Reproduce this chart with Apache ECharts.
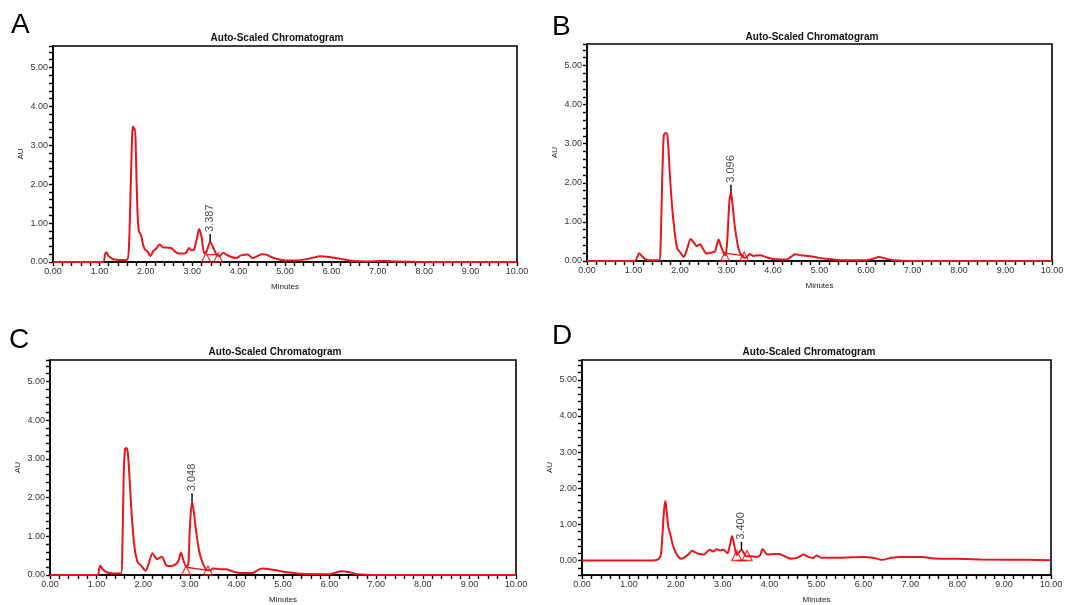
<!DOCTYPE html>
<html>
<head>
<meta charset="utf-8">
<script src="https://cdn.jsdelivr.net/npm/echarts@6/dist/echarts.min.js"></script>
<style>
html,body{margin:0;padding:0;background:#fff;}
#c{width:1080px;height:605px;}
</style>
</head>
<body>
<div id="c"></div>
<script>
// ---- Data ----
const panelLetters = ['A', 'B', 'C', 'D'];
const chartTitle = 'Auto-Scaled Chromatogram';
const xTickLabels = ['0.00','1.00','2.00','3.00','4.00','5.00','6.00','7.00','8.00','9.00','10.00'];

const tA = [0, 1.08, 1.12, 1.15, 1.2, 1.3, 1.45, 1.6, 1.64, 1.68, 1.71, 1.73, 1.75, 1.77, 1.79, 1.82, 1.85, 1.9, 1.94, 1.98, 2.04, 2.1, 2.16, 2.22, 2.3, 2.38, 2.45, 2.55, 2.62, 2.7, 2.8, 2.87, 2.93, 2.98, 3.04, 3.1, 3.15, 3.2, 3.26, 3.32, 3.387, 3.45, 3.52, 3.58, 3.67, 3.75, 3.85, 3.95, 4.05, 4.2, 4.3, 4.4, 4.5, 4.6, 4.7, 4.85, 5.0, 5.2, 5.5, 5.75, 6.0, 6.2, 6.4, 6.6, 6.8, 7.1, 7.4, 8.0, 10];
const vA = [0, 0, 0.2, 0.25, 0.15, 0.07, 0.05, 0.06, 0.5, 2.2, 3.35, 3.48, 3.4, 3.42, 2.6, 1.3, 0.8, 0.68, 0.45, 0.32, 0.27, 0.15, 0.28, 0.34, 0.45, 0.37, 0.37, 0.36, 0.28, 0.22, 0.22, 0.24, 0.36, 0.3, 0.32, 0.6, 0.85, 0.65, 0.22, 0.3, 0.52, 0.38, 0.2, 0.15, 0.23, 0.18, 0.13, 0.1, 0.17, 0.19, 0.1, 0.15, 0.2, 0.19, 0.13, 0.07, 0.04, 0.04, 0.08, 0.15, 0.12, 0.08, 0.04, 0.02, 0.01, 0.03, 0.01, 0, 0];

const tB = [0, 1.03, 1.08, 1.12, 1.17, 1.25, 1.35, 1.55, 1.58, 1.62, 1.65, 1.68, 1.72, 1.75, 1.78, 1.83, 1.89, 1.94, 2.0, 2.08, 2.15, 2.23, 2.3, 2.36, 2.43, 2.5, 2.57, 2.65, 2.75, 2.79, 2.83, 2.88, 2.94, 2.98, 3.02, 3.06, 3.096, 3.13, 3.18, 3.25, 3.32, 3.4, 3.45, 3.5, 3.58, 3.72, 3.85, 4.0, 4.15, 4.3, 4.38, 4.47, 4.6, 4.8, 5.0, 5.2, 5.5, 6.0, 6.15, 6.28, 6.4, 6.6, 7.0, 10];
const vB = [0, 0, 0.1, 0.2, 0.14, 0.05, 0.02, 0.02, 0.3, 2.2, 3.2, 3.27, 3.27, 2.9, 2.25, 1.39, 0.7, 0.32, 0.23, 0.1, 0.3, 0.56, 0.47, 0.38, 0.43, 0.3, 0.19, 0.21, 0.24, 0.4, 0.55, 0.38, 0.2, 0.15, 0.6, 1.5, 1.75, 1.45, 0.87, 0.36, 0.15, 0.08, 0.12, 0.18, 0.13, 0.15, 0.1, 0.05, 0.04, 0.04, 0.1, 0.17, 0.15, 0.12, 0.08, 0.05, 0.02, 0.02, 0.06, 0.1, 0.07, 0.02, 0, 0];

const tC = [0, 1.03, 1.05, 1.08, 1.13, 1.22, 1.35, 1.52, 1.55, 1.58, 1.61, 1.64, 1.67, 1.7, 1.75, 1.81, 1.88, 1.95, 2.05, 2.12, 2.2, 2.3, 2.4, 2.5, 2.6, 2.7, 2.76, 2.81, 2.87, 2.93, 2.97, 3.0, 3.048, 3.09, 3.12, 3.2, 3.28, 3.38, 3.44, 3.5, 3.65, 3.78, 3.95, 4.1, 4.35, 4.45, 4.55, 4.7, 4.85, 5.1, 5.4, 6.0, 6.12, 6.25, 6.4, 6.6, 7.0, 10];
const vC = [0, 0, 0.15, 0.24, 0.15, 0.07, 0.04, 0.04, 0.5, 2.5, 3.25, 3.28, 3.15, 2.64, 1.61, 0.75, 0.33, 0.25, 0.11, 0.3, 0.56, 0.41, 0.47, 0.24, 0.23, 0.28, 0.38, 0.58, 0.35, 0.2, 0.3, 1.2, 1.91, 1.6, 1.27, 0.62, 0.3, 0.12, 0.12, 0.17, 0.15, 0.15, 0.08, 0.05, 0.05, 0.12, 0.17, 0.15, 0.12, 0.07, 0.03, 0.02, 0.06, 0.1, 0.08, 0.02, 0, 0];

const tD = [0, 1.5, 1.62, 1.68, 1.72, 1.75, 1.78, 1.81, 1.84, 1.88, 1.95, 2.05, 2.12, 2.25, 2.35, 2.42, 2.5, 2.6, 2.72, 2.8, 2.87, 2.95, 3.02, 3.1, 3.15, 3.2, 3.25, 3.3, 3.4, 3.5, 3.6, 3.72, 3.8, 3.85, 3.95, 4.1, 4.2, 4.35, 4.45, 4.6, 4.72, 4.82, 4.92, 5.0, 5.1, 5.5, 6.0, 6.2, 6.4, 6.6, 6.8, 7.0, 7.25, 7.5, 8.0, 8.5, 9.5, 10];
const vD = [0, 0, 0.03, 0.15, 0.8, 1.4, 1.65, 1.3, 0.93, 0.74, 0.37, 0.11, 0.05, 0.15, 0.27, 0.22, 0.18, 0.17, 0.3, 0.25, 0.31, 0.28, 0.3, 0.2, 0.4, 0.68, 0.4, 0.15, 0.3, 0.12, 0.12, 0.1, 0.15, 0.32, 0.17, 0.18, 0.18, 0.1, 0.05, 0.08, 0.17, 0.1, 0.07, 0.14, 0.08, 0.08, 0.1, 0.08, 0.02, 0.08, 0.1, 0.1, 0.1, 0.06, 0.05, 0.03, 0.02, 0.01];

// labelled peaks: retention time, apex height, label text
const peakTimes = [3.387, 3.096, 3.048, 3.400];
const peakHeights = [0.52, 1.75, 1.91, 0.30];
const peakLabels = ['3.387', '3.096', '3.048', '3.400'];
// integration start / end marks (time) and baseline heights
const markTimes = [[3.30, 3.56], [2.97, 3.38], [2.92, 3.39], [3.30, 3.52]];
const baselineVals = [[0.19, 0.19], [0.2, 0.13], [0.2, 0.12], [0.0, 0.0]];
const yMins = [0, 0, 0, -0.4];
const yMax = 5.55;

// ---- Build chart ----
const RED = '#e8151b';
const FONT = 'Liberation Sans, Arial, sans-serif';
const times = [tA, tB, tC, tD];
const vals = [vA, vB, vC, vD];

const grids = [
  {left: 53, top: 46, width: 464, height: 216},
  {left: 587, top: 44, width: 465, height: 217},
  {left: 50, top: 360, width: 466, height: 216},
  {left: 582, top: 360, width: 469, height: 217}
];
const titlePos = [[272, 28], [807, 27], [270, 342], [804, 342]];
const letterPos = [[11, 11], [552, 13], [9, 326], [552, 322]];

function isInt(v) { return Math.abs(v - Math.round(v)) < 1e-6; }

const option = {
  animation: false,
  backgroundColor: '#fff',
  textStyle: {fontFamily: FONT},
  title: titlePos.map(p => ({
    text: chartTitle, left: p[0], top: p[1], textAlign: 'center',
    textStyle: {fontSize: 10, fontWeight: 'bold', color: '#111', fontFamily: FONT}
  })),
  graphic: panelLetters.map((L, i) => ({
    type: 'text', left: letterPos[i][0], top: letterPos[i][1],
    style: {text: L, fontSize: 28, fill: '#000', fontFamily: FONT}
  })),
  grid: grids.map(g => Object.assign({show: true, borderColor: '#000', borderWidth: 1.6, backgroundColor: 'transparent'}, g)),
  xAxis: grids.map((g, i) => ({
    type: 'value', gridIndex: i, min: 0, max: 10, interval: 0.2,
    name: 'Minutes', nameLocation: 'middle', nameGap: 21,
    nameTextStyle: {fontSize: 8, color: '#222', fontFamily: FONT},
    axisLine: {show: true, onZero: false, lineStyle: {color: '#000', width: 1.6}},
    axisTick: {show: true, inside: false, length: 4, lineStyle: {color: '#000', width: 1.4}},
    axisLabel: {fontSize: 9, color: '#333', margin: 5, fontFamily: FONT,
      formatter: v => isInt(v) ? xTickLabels[Math.round(v)] : ''},
    splitLine: {show: false}
  })),
  yAxis: grids.map((g, i) => ({
    type: 'value', gridIndex: i, min: yMins[i], max: yMax, interval: 0.2,
    name: 'AU', nameLocation: 'middle', nameGap: 28,
    nameTextStyle: {fontSize: 8, color: '#222', fontFamily: FONT},
    axisLine: {show: true, lineStyle: {color: '#000', width: 1.6}},
    axisTick: {show: true, inside: false, length: 4, lineStyle: {color: '#000', width: 1.4}},
    axisLabel: {fontSize: 9, color: '#333', margin: 5, fontFamily: FONT,
      formatter: v => isInt(v) ? Math.round(v).toFixed(2) : ''},
    splitLine: {show: false}
  })),
  series: []
};

for (let i = 0; i < 4; i++) {
  option.series.push({
    type: 'line', xAxisIndex: i, yAxisIndex: i, symbol: 'none', smooth: 0.25,
    lineStyle: {color: RED, width: 2}, z: 3,
    data: times[i].map((t, k) => [t, vals[i][k]])
  });
  // integration baseline
  option.series.push({
    type: 'line', xAxisIndex: i, yAxisIndex: i, symbol: 'none',
    lineStyle: {color: RED, width: 1.4}, z: 3,
    data: [[markTimes[i][0], baselineVals[i][0]], [markTimes[i][1], baselineVals[i][1]]]
  });
  // start/end triangles
  const tri = (i === 3) ? 10 : 9;
  option.series.push({
    type: 'scatter', xAxisIndex: i, yAxisIndex: i, symbol: 'triangle',
    symbolSize: [tri, tri], symbolOffset: [0, -tri / 2],
    itemStyle: {color: 'rgba(0,0,0,0)', borderColor: RED, borderWidth: 1.4}, z: 4,
    data: markTimes[i].map(t => [t, 0])
  });
  // peak apex tick
  const tick = (i === 3) ? 0.22 : 0.2;
  option.series.push({
    type: 'line', xAxisIndex: i, yAxisIndex: i, symbol: 'none',
    lineStyle: {color: '#000', width: 1.4}, z: 5,
    data: [[peakTimes[i], peakHeights[i]], [peakTimes[i], peakHeights[i] + tick]]
  });
  option.series.push({
    type: 'scatter', xAxisIndex: i, yAxisIndex: i, symbolSize: 0, z: 5,
    data: [[peakTimes[i], peakHeights[i] + tick]],
    label: {show: true, formatter: peakLabels[i], position: 'top', distance: 2,
      rotate: 90, align: 'left', verticalAlign: 'middle',
      fontSize: 11, color: '#222', fontFamily: FONT}
  });
}

const chart = echarts.init(document.getElementById('c'), null, {renderer: 'canvas'});
chart.setOption(option);
</script>
</body>
</html>
